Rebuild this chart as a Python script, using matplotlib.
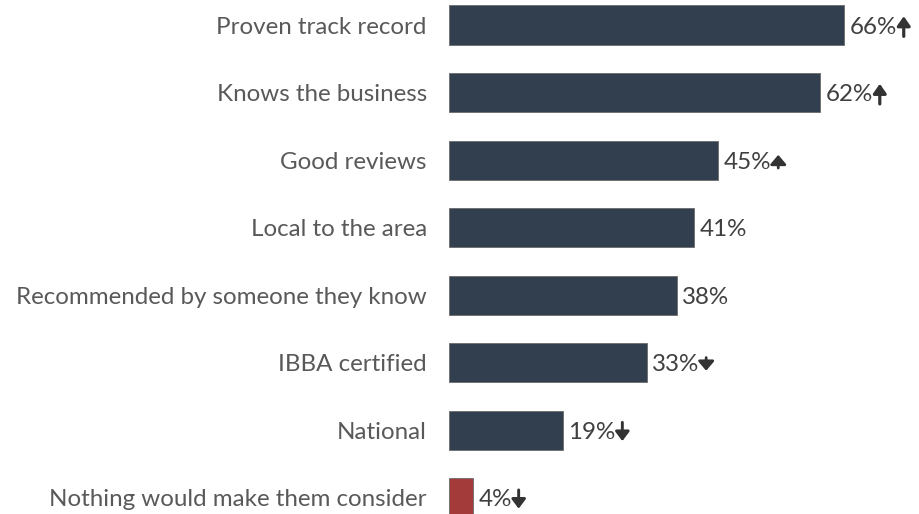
import matplotlib
matplotlib.use("Agg")
import matplotlib.pyplot as plt
from matplotlib.text import OffsetFrom

categories = ["Proven track record", "Knows the business", "Good reviews",
              "Local to the area", "Recommended by someone they know",
              "IBBA certified", "National", "Nothing would make them consider"]
values = [66, 62, 45, 41, 38, 33, 19, 4]
# trend marker per row: (direction, size) or None
trends = [("up", "big"), ("up", "big"), ("up", "small"), None, None,
          ("down", "small"), ("down", "mid"), ("down", "mid")]

NAVY = "#323f4f"
RED = "#a33b3b"
TXT = "#595959"

plt.rcParams["font.family"] = ["Lato", "DejaVu Sans"]

fig = plt.figure(figsize=(9.19, 5.14), dpi=100)
ax = fig.add_axes([449 / 919, 0, 1 - 449 / 919, 1])

colors = [NAVY] * (len(values) - 1) + [RED]
ys = list(range(len(values)))
ax.barh(ys, values, height=0.58, color=colors, edgecolor="#6b6b6b", linewidth=0.6)

ax.set_xlim(0, 78.5)
ax.set_ylim(7.237, -0.37)
ax.set_yticks(ys)
ax.set_yticklabels(categories, fontsize=17.4, color=TXT, va="center_baseline")
ax.tick_params(axis="y", length=0, pad=16)
ax.set_xticks([])
for s in ax.spines.values():
    s.set_visible(False)

# arrow geometry in points: (height, head width, head length, stem lw)
sizes = {"big": (14.5, 0.28, 0.4, 2.3), "mid": (13.5, 0.3, 0.4, 2.1),
         "small": (9.5, 0.34, 0.4, 2.0)}

for y, v, tr in zip(ys, values, trends):
    t = ax.text(v + 0.9, y, f"{v}%", va="center_baseline", ha="left", fontsize=17.4,
                color="#404040")
    if tr is None:
        continue
    d, sz = tr
    h, hw, hl, lw = sizes[sz]
    ref = OffsetFrom(t, (1.0, 0.5), unit="points")
    x0 = 5.0
    yc = 0.5
    if d == "up":
        start, end = (x0, yc - h / 2), (x0, yc + h / 2)
    else:
        start, end = (x0, yc + h / 2), (x0, yc - h / 2)
    ax.annotate("", xy=end, xycoords=ref, xytext=start, textcoords=ref,
                arrowprops=dict(arrowstyle=f"-|>,head_width={hw},head_length={hl}",
                                lw=lw, color="#333333", shrinkA=0, shrinkB=0,
                                mutation_scale=14))

fig.savefig("out.png", dpi=100)
